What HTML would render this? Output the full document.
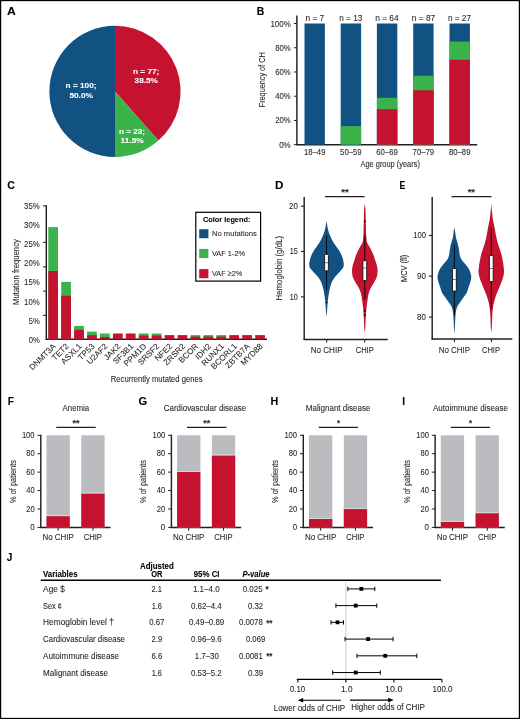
<!DOCTYPE html>
<html><head><meta charset="utf-8"><style>
html,body{margin:0;padding:0;background:#fff;}
body{width:520px;height:719px;overflow:hidden;}
svg{display:block;font-family:"Liberation Sans", sans-serif;will-change:transform;}
</style></head><body>
<svg width="520" height="719" viewBox="0 0 520 719">
<rect x="0" y="0" width="520" height="719" fill="#fff"/>
<text x="7.00" y="14.80" font-size="11.6" font-weight="bold" font-style="normal" fill="#000" stroke="#000" stroke-width="0.08" textLength="8.80" lengthAdjust="spacingAndGlyphs">A</text>
<text x="256.70" y="14.80" font-size="11.6" font-weight="bold" font-style="normal" fill="#000" stroke="#000" stroke-width="0.08" textLength="7.50" lengthAdjust="spacingAndGlyphs">B</text>
<text x="7.30" y="189.20" font-size="11.6" font-weight="bold" font-style="normal" fill="#000" stroke="#000" stroke-width="0.08" textLength="7.70" lengthAdjust="spacingAndGlyphs">C</text>
<text x="275.00" y="189.30" font-size="11.6" font-weight="bold" font-style="normal" fill="#000" stroke="#000" stroke-width="0.08" textLength="8.40" lengthAdjust="spacingAndGlyphs">D</text>
<text x="399.60" y="189.30" font-size="11.6" font-weight="bold" font-style="normal" fill="#000" stroke="#000" stroke-width="0.08" textLength="5.80" lengthAdjust="spacingAndGlyphs">E</text>
<text x="7.80" y="404.50" font-size="11.6" font-weight="bold" font-style="normal" fill="#000" stroke="#000" stroke-width="0.08" textLength="6.20" lengthAdjust="spacingAndGlyphs">F</text>
<text x="138.60" y="404.70" font-size="11.6" font-weight="bold" font-style="normal" fill="#000" stroke="#000" stroke-width="0.08" textLength="8.70" lengthAdjust="spacingAndGlyphs">G</text>
<text x="270.50" y="404.50" font-size="11.6" font-weight="bold" font-style="normal" fill="#000" stroke="#000" stroke-width="0.08" textLength="7.75" lengthAdjust="spacingAndGlyphs">H</text>
<text x="402.20" y="404.60" font-size="11.6" font-weight="bold" font-style="normal" fill="#000" stroke="#000" stroke-width="0.08" textLength="2.80" lengthAdjust="spacingAndGlyphs">I</text>
<text x="6.80" y="561.30" font-size="11.6" font-weight="bold" font-style="normal" fill="#000" stroke="#000" stroke-width="0.08" textLength="5.60" lengthAdjust="spacingAndGlyphs">J</text>
<path d="M115.0,91.4 L115.00,25.80 A65.6,65.6 0 0 0 115.00,157.00 Z" fill="#115283"/>
<path d="M115.0,91.4 L115.00,25.80 A65.6,65.6 0 0 1 158.38,140.61 Z" fill="#c4122f"/>
<path d="M115.0,91.4 L158.38,140.61 A65.6,65.6 0 0 1 115.00,157.00 Z" fill="#3bb34a"/>
<text x="65.60" y="88.00" font-size="8.0" font-weight="bold" font-style="normal" fill="#ffffff" stroke="#ffffff" stroke-width="0.08" textLength="30.90" lengthAdjust="spacingAndGlyphs">n = 100;</text>
<text x="69.40" y="97.60" font-size="8.0" font-weight="bold" font-style="normal" fill="#ffffff" stroke="#ffffff" stroke-width="0.08" textLength="23.50" lengthAdjust="spacingAndGlyphs">50.0%</text>
<text x="132.90" y="73.80" font-size="8.0" font-weight="bold" font-style="normal" fill="#ffffff" stroke="#ffffff" stroke-width="0.08" textLength="26.50" lengthAdjust="spacingAndGlyphs">n = 77;</text>
<text x="134.60" y="83.10" font-size="8.0" font-weight="bold" font-style="normal" fill="#ffffff" stroke="#ffffff" stroke-width="0.08" textLength="23.30" lengthAdjust="spacingAndGlyphs">38.5%</text>
<text x="118.90" y="133.75" font-size="8.0" font-weight="bold" font-style="normal" fill="#ffffff" stroke="#ffffff" stroke-width="0.08" textLength="26.20" lengthAdjust="spacingAndGlyphs">n = 23;</text>
<text x="120.60" y="143.10" font-size="8.0" font-weight="bold" font-style="normal" fill="#ffffff" stroke="#ffffff" stroke-width="0.08" textLength="23.20" lengthAdjust="spacingAndGlyphs">11.5%</text>
<line x1="296.90" y1="15.60" x2="296.90" y2="145.30" stroke="#231f20" stroke-width="1.45"/>
<line x1="296.30" y1="144.70" x2="477.20" y2="144.70" stroke="#231f20" stroke-width="1.45"/>
<line x1="293.90" y1="144.70" x2="296.90" y2="144.70" stroke="#231f20" stroke-width="1.0"/>
<text x="279.20" y="147.70" font-size="8.6" font-weight="normal" font-style="normal" fill="#231f20" stroke="#231f20" stroke-width="0.08" textLength="11.50" lengthAdjust="spacingAndGlyphs">0%</text>
<line x1="293.90" y1="120.46" x2="296.90" y2="120.46" stroke="#231f20" stroke-width="1.0"/>
<text x="275.20" y="123.46" font-size="8.6" font-weight="normal" font-style="normal" fill="#231f20" stroke="#231f20" stroke-width="0.08" textLength="15.50" lengthAdjust="spacingAndGlyphs">20%</text>
<line x1="293.90" y1="96.22" x2="296.90" y2="96.22" stroke="#231f20" stroke-width="1.0"/>
<text x="275.20" y="99.22" font-size="8.6" font-weight="normal" font-style="normal" fill="#231f20" stroke="#231f20" stroke-width="0.08" textLength="15.50" lengthAdjust="spacingAndGlyphs">40%</text>
<line x1="293.90" y1="71.98" x2="296.90" y2="71.98" stroke="#231f20" stroke-width="1.0"/>
<text x="275.20" y="74.98" font-size="8.6" font-weight="normal" font-style="normal" fill="#231f20" stroke="#231f20" stroke-width="0.08" textLength="15.50" lengthAdjust="spacingAndGlyphs">60%</text>
<line x1="293.90" y1="47.74" x2="296.90" y2="47.74" stroke="#231f20" stroke-width="1.0"/>
<text x="275.20" y="50.74" font-size="8.6" font-weight="normal" font-style="normal" fill="#231f20" stroke="#231f20" stroke-width="0.08" textLength="15.50" lengthAdjust="spacingAndGlyphs">80%</text>
<line x1="293.90" y1="23.50" x2="296.90" y2="23.50" stroke="#231f20" stroke-width="1.0"/>
<text x="270.40" y="26.50" font-size="8.6" font-weight="normal" font-style="normal" fill="#231f20" stroke="#231f20" stroke-width="0.08" textLength="20.30" lengthAdjust="spacingAndGlyphs">100%</text>
<rect x="304.50" y="23.50" width="20.40" height="121.20" fill="#115283"/>
<rect x="340.70" y="23.50" width="20.40" height="121.20" fill="#115283"/>
<rect x="340.70" y="126.16" width="20.40" height="18.54" fill="#3bb34a"/>
<rect x="376.90" y="23.50" width="20.40" height="121.20" fill="#115283"/>
<rect x="376.90" y="97.80" width="20.40" height="46.90" fill="#3bb34a"/>
<rect x="376.90" y="109.19" width="20.40" height="35.51" fill="#c4122f"/>
<rect x="413.20" y="23.50" width="20.40" height="121.20" fill="#115283"/>
<rect x="413.20" y="75.74" width="20.40" height="68.96" fill="#3bb34a"/>
<rect x="413.20" y="90.28" width="20.40" height="54.42" fill="#c4122f"/>
<rect x="449.50" y="23.50" width="20.40" height="121.20" fill="#115283"/>
<rect x="449.50" y="41.56" width="20.40" height="103.14" fill="#3bb34a"/>
<rect x="449.50" y="59.74" width="20.40" height="84.96" fill="#c4122f"/>
<text x="305.40" y="21.00" font-size="8.3" font-weight="normal" font-style="normal" fill="#231f20" stroke="#231f20" stroke-width="0.08" textLength="18.90" lengthAdjust="spacingAndGlyphs">n = 7</text>
<text x="339.20" y="21.00" font-size="8.3" font-weight="normal" font-style="normal" fill="#231f20" stroke="#231f20" stroke-width="0.08" textLength="23.10" lengthAdjust="spacingAndGlyphs">n = 13</text>
<text x="375.20" y="21.00" font-size="8.3" font-weight="normal" font-style="normal" fill="#231f20" stroke="#231f20" stroke-width="0.08" textLength="23.40" lengthAdjust="spacingAndGlyphs">n = 64</text>
<text x="411.80" y="21.00" font-size="8.3" font-weight="normal" font-style="normal" fill="#231f20" stroke="#231f20" stroke-width="0.08" textLength="23.40" lengthAdjust="spacingAndGlyphs">n = 87</text>
<text x="447.90" y="21.00" font-size="8.3" font-weight="normal" font-style="normal" fill="#231f20" stroke="#231f20" stroke-width="0.08" textLength="23.10" lengthAdjust="spacingAndGlyphs">n = 27</text>
<text x="303.90" y="154.70" font-size="8.6" font-weight="normal" font-style="normal" fill="#231f20" stroke="#231f20" stroke-width="0.08" textLength="21.60" lengthAdjust="spacingAndGlyphs">18–49</text>
<text x="340.10" y="154.70" font-size="8.6" font-weight="normal" font-style="normal" fill="#231f20" stroke="#231f20" stroke-width="0.08" textLength="21.60" lengthAdjust="spacingAndGlyphs">50–59</text>
<text x="376.30" y="154.70" font-size="8.6" font-weight="normal" font-style="normal" fill="#231f20" stroke="#231f20" stroke-width="0.08" textLength="21.60" lengthAdjust="spacingAndGlyphs">60–69</text>
<text x="412.60" y="154.70" font-size="8.6" font-weight="normal" font-style="normal" fill="#231f20" stroke="#231f20" stroke-width="0.08" textLength="21.60" lengthAdjust="spacingAndGlyphs">70–79</text>
<text x="448.90" y="154.70" font-size="8.6" font-weight="normal" font-style="normal" fill="#231f20" stroke="#231f20" stroke-width="0.08" textLength="21.60" lengthAdjust="spacingAndGlyphs">80–89</text>
<text x="360.50" y="167.30" font-size="9.5" font-weight="normal" font-style="normal" fill="#231f20" stroke="#231f20" stroke-width="0.08" textLength="59.40" lengthAdjust="spacingAndGlyphs">Age group (years)</text>
<text transform="translate(264.50,107.30) rotate(-90)" x="0" y="0" font-size="9.5" font-weight="normal" fill="#231f20" stroke="#231f20" stroke-width="0.08" textLength="55.00" lengthAdjust="spacingAndGlyphs">Frequency of CH</text>
<line x1="46.30" y1="205.30" x2="46.30" y2="339.80" stroke="#231f20" stroke-width="1.45"/>
<line x1="45.70" y1="339.20" x2="267.00" y2="339.20" stroke="#231f20" stroke-width="1.45"/>
<line x1="43.00" y1="205.90" x2="46.30" y2="205.90" stroke="#231f20" stroke-width="1.0"/>
<line x1="43.00" y1="242.30" x2="46.30" y2="242.30" stroke="#231f20" stroke-width="1.0"/>
<line x1="43.00" y1="266.90" x2="46.30" y2="266.90" stroke="#231f20" stroke-width="1.0"/>
<line x1="43.00" y1="291.10" x2="46.30" y2="291.10" stroke="#231f20" stroke-width="1.0"/>
<line x1="43.00" y1="315.40" x2="46.30" y2="315.40" stroke="#231f20" stroke-width="1.0"/>
<text x="28.70" y="342.70" font-size="8.6" font-weight="normal" font-style="normal" fill="#231f20" stroke="#231f20" stroke-width="0.08" textLength="11.00" lengthAdjust="spacingAndGlyphs">0%</text>
<text x="28.70" y="323.63" font-size="8.6" font-weight="normal" font-style="normal" fill="#231f20" stroke="#231f20" stroke-width="0.08" textLength="11.00" lengthAdjust="spacingAndGlyphs">5%</text>
<text x="24.10" y="304.56" font-size="8.6" font-weight="normal" font-style="normal" fill="#231f20" stroke="#231f20" stroke-width="0.08" textLength="15.60" lengthAdjust="spacingAndGlyphs">10%</text>
<text x="24.10" y="285.49" font-size="8.6" font-weight="normal" font-style="normal" fill="#231f20" stroke="#231f20" stroke-width="0.08" textLength="15.60" lengthAdjust="spacingAndGlyphs">15%</text>
<text x="24.10" y="266.42" font-size="8.6" font-weight="normal" font-style="normal" fill="#231f20" stroke="#231f20" stroke-width="0.08" textLength="15.60" lengthAdjust="spacingAndGlyphs">20%</text>
<text x="24.10" y="247.35" font-size="8.6" font-weight="normal" font-style="normal" fill="#231f20" stroke="#231f20" stroke-width="0.08" textLength="15.60" lengthAdjust="spacingAndGlyphs">25%</text>
<text x="24.10" y="228.28" font-size="8.6" font-weight="normal" font-style="normal" fill="#231f20" stroke="#231f20" stroke-width="0.08" textLength="15.60" lengthAdjust="spacingAndGlyphs">30%</text>
<text x="24.10" y="209.21" font-size="8.6" font-weight="normal" font-style="normal" fill="#231f20" stroke="#231f20" stroke-width="0.08" textLength="15.60" lengthAdjust="spacingAndGlyphs">35%</text>
<rect x="48.30" y="227.10" width="9.70" height="112.10" fill="#3bb34a"/>
<rect x="48.30" y="271.00" width="9.70" height="68.20" fill="#c4122f"/>
<text transform="translate(56.35,346.80) rotate(-45)" text-anchor="end" font-size="8.2" stroke="#231f20" stroke-width="0.08" fill="#231f20">DNMT3A</text>
<rect x="61.23" y="281.90" width="9.70" height="57.30" fill="#3bb34a"/>
<rect x="61.23" y="295.70" width="9.70" height="43.50" fill="#c4122f"/>
<text transform="translate(69.28,346.80) rotate(-45)" text-anchor="end" font-size="8.2" stroke="#231f20" stroke-width="0.08" fill="#231f20">TET2</text>
<rect x="74.16" y="325.90" width="9.70" height="13.30" fill="#3bb34a"/>
<rect x="74.16" y="329.80" width="9.70" height="9.40" fill="#c4122f"/>
<text transform="translate(82.21,346.80) rotate(-45)" text-anchor="end" font-size="8.2" stroke="#231f20" stroke-width="0.08" fill="#231f20">ASXL1</text>
<rect x="87.09" y="331.60" width="9.70" height="7.60" fill="#3bb34a"/>
<rect x="87.09" y="335.20" width="9.70" height="4.00" fill="#c4122f"/>
<text transform="translate(95.14,346.80) rotate(-45)" text-anchor="end" font-size="8.2" stroke="#231f20" stroke-width="0.08" fill="#231f20">TP53</text>
<rect x="100.02" y="333.50" width="9.70" height="5.70" fill="#3bb34a"/>
<rect x="100.02" y="337.00" width="9.70" height="2.20" fill="#c4122f"/>
<text transform="translate(108.07,346.80) rotate(-45)" text-anchor="end" font-size="8.2" stroke="#231f20" stroke-width="0.08" fill="#231f20">U2AF2</text>
<rect x="112.95" y="333.50" width="9.70" height="5.70" fill="#c4122f"/>
<text transform="translate(121.00,346.80) rotate(-45)" text-anchor="end" font-size="8.2" stroke="#231f20" stroke-width="0.08" fill="#231f20">JAK2</text>
<rect x="125.88" y="333.50" width="9.70" height="5.70" fill="#c4122f"/>
<text transform="translate(133.93,346.80) rotate(-45)" text-anchor="end" font-size="8.2" stroke="#231f20" stroke-width="0.08" fill="#231f20">SF3B1</text>
<rect x="138.81" y="333.50" width="9.70" height="5.70" fill="#3bb34a"/>
<rect x="138.81" y="335.50" width="9.70" height="3.70" fill="#c4122f"/>
<text transform="translate(146.86,346.80) rotate(-45)" text-anchor="end" font-size="8.2" stroke="#231f20" stroke-width="0.08" fill="#231f20">PPM1D</text>
<rect x="151.74" y="333.50" width="9.70" height="5.70" fill="#3bb34a"/>
<rect x="151.74" y="335.50" width="9.70" height="3.70" fill="#c4122f"/>
<text transform="translate(159.79,346.80) rotate(-45)" text-anchor="end" font-size="8.2" stroke="#231f20" stroke-width="0.08" fill="#231f20">SRSF2</text>
<rect x="164.67" y="335.10" width="9.70" height="4.10" fill="#c4122f"/>
<text transform="translate(172.72,346.80) rotate(-45)" text-anchor="end" font-size="8.2" stroke="#231f20" stroke-width="0.08" fill="#231f20">NFE2</text>
<rect x="177.60" y="335.10" width="9.70" height="4.10" fill="#c4122f"/>
<text transform="translate(185.65,346.80) rotate(-45)" text-anchor="end" font-size="8.2" stroke="#231f20" stroke-width="0.08" fill="#231f20">ZRSR2</text>
<rect x="190.53" y="335.10" width="9.70" height="4.10" fill="#3bb34a"/>
<rect x="190.53" y="336.60" width="9.70" height="2.60" fill="#c4122f"/>
<text transform="translate(198.58,346.80) rotate(-45)" text-anchor="end" font-size="8.2" stroke="#231f20" stroke-width="0.08" fill="#231f20">BCOR</text>
<rect x="203.46" y="335.10" width="9.70" height="4.10" fill="#3bb34a"/>
<rect x="203.46" y="336.60" width="9.70" height="2.60" fill="#c4122f"/>
<text transform="translate(211.51,346.80) rotate(-45)" text-anchor="end" font-size="8.2" stroke="#231f20" stroke-width="0.08" fill="#231f20">IDH2</text>
<rect x="216.39" y="335.10" width="9.70" height="4.10" fill="#3bb34a"/>
<rect x="216.39" y="336.60" width="9.70" height="2.60" fill="#c4122f"/>
<text transform="translate(224.44,346.80) rotate(-45)" text-anchor="end" font-size="8.2" stroke="#231f20" stroke-width="0.08" fill="#231f20">RUNX1</text>
<rect x="229.32" y="335.10" width="9.70" height="4.10" fill="#c4122f"/>
<text transform="translate(237.37,346.80) rotate(-45)" text-anchor="end" font-size="8.2" stroke="#231f20" stroke-width="0.08" fill="#231f20">BCORL1</text>
<rect x="242.25" y="335.10" width="9.70" height="4.10" fill="#c4122f"/>
<text transform="translate(250.30,346.80) rotate(-45)" text-anchor="end" font-size="8.2" stroke="#231f20" stroke-width="0.08" fill="#231f20">ZBTB7A</text>
<rect x="255.18" y="335.10" width="9.70" height="4.10" fill="#c4122f"/>
<text transform="translate(263.23,346.80) rotate(-45)" text-anchor="end" font-size="8.2" stroke="#231f20" stroke-width="0.08" fill="#231f20">MYD88</text>
<text x="110.80" y="382.30" font-size="9.0" font-weight="normal" font-style="normal" fill="#231f20" stroke="#231f20" stroke-width="0.08" textLength="91.70" lengthAdjust="spacingAndGlyphs">Recurrently mutated genes</text>
<text transform="translate(18.50,304.90) rotate(-90)" x="0" y="0" font-size="9.0" font-weight="normal" fill="#231f20" stroke="#231f20" stroke-width="0.08" textLength="65.80" lengthAdjust="spacingAndGlyphs">Mutation frequency</text>
<rect x="195.8" y="212.3" width="64.8" height="68.8" fill="#fff" stroke="#000" stroke-width="1.2"/>
<text x="203.00" y="221.90" font-size="7.9" font-weight="bold" font-style="normal" fill="#000" stroke="#000" stroke-width="0.08" textLength="47.40" lengthAdjust="spacingAndGlyphs">Color legend:</text>
<rect x="199.20" y="229.20" width="9.20" height="9.00" fill="#115283"/>
<rect x="199.20" y="248.90" width="9.20" height="9.20" fill="#3bb34a"/>
<rect x="199.20" y="269.10" width="9.20" height="9.10" fill="#c4122f"/>
<text x="212.00" y="236.40" font-size="8.1" font-weight="normal" font-style="normal" fill="#231f20" stroke="#231f20" stroke-width="0.08" textLength="44.90" lengthAdjust="spacingAndGlyphs">No mutations</text>
<text x="212.00" y="256.10" font-size="8.1" font-weight="normal" font-style="normal" fill="#231f20" stroke="#231f20" stroke-width="0.08" textLength="33.10" lengthAdjust="spacingAndGlyphs">VAF 1-2%</text>
<text x="212.00" y="276.20" font-size="8.1" font-weight="normal" font-style="normal" fill="#231f20" stroke="#231f20" stroke-width="0.08" textLength="30.20" lengthAdjust="spacingAndGlyphs">VAF &#8805;2%</text>
<line x1="304.20" y1="196.90" x2="304.20" y2="340.10" stroke="#231f20" stroke-width="1.45"/>
<line x1="303.60" y1="339.50" x2="387.70" y2="339.50" stroke="#231f20" stroke-width="1.45"/>
<line x1="300.90" y1="206.20" x2="304.20" y2="206.20" stroke="#231f20" stroke-width="1.1"/>
<text x="289.00" y="209.10" font-size="8.6" font-weight="normal" font-style="normal" fill="#231f20" stroke="#231f20" stroke-width="0.08" textLength="8.80" lengthAdjust="spacingAndGlyphs">20</text>
<line x1="300.90" y1="251.40" x2="304.20" y2="251.40" stroke="#231f20" stroke-width="1.1"/>
<text x="289.80" y="254.30" font-size="8.6" font-weight="normal" font-style="normal" fill="#231f20" stroke="#231f20" stroke-width="0.08" textLength="8.00" lengthAdjust="spacingAndGlyphs">15</text>
<line x1="300.90" y1="296.90" x2="304.20" y2="296.90" stroke="#231f20" stroke-width="1.1"/>
<text x="289.80" y="299.80" font-size="8.6" font-weight="normal" font-style="normal" fill="#231f20" stroke="#231f20" stroke-width="0.08" textLength="8.00" lengthAdjust="spacingAndGlyphs">10</text>
<line x1="326.70" y1="339.50" x2="326.70" y2="342.60" stroke="#231f20" stroke-width="1.0"/>
<line x1="364.70" y1="339.50" x2="364.70" y2="342.60" stroke="#231f20" stroke-width="1.0"/>
<text x="310.75" y="352.50" font-size="8.6" font-weight="normal" font-style="normal" fill="#231f20" stroke="#231f20" stroke-width="0.08" textLength="31.75" lengthAdjust="spacingAndGlyphs">No CHIP</text>
<text x="355.75" y="352.50" font-size="8.6" font-weight="normal" font-style="normal" fill="#231f20" stroke="#231f20" stroke-width="0.08" textLength="18.00" lengthAdjust="spacingAndGlyphs">CHIP</text>
<line x1="324.90" y1="196.70" x2="364.60" y2="196.70" stroke="#231f20" stroke-width="1.3"/>
<text x="341.30" y="195.30" font-size="8.6" font-weight="bold" font-style="normal" fill="#231f20" stroke="#231f20" stroke-width="0.08" textLength="7.50" lengthAdjust="spacingAndGlyphs">**</text>
<text transform="translate(282.40,300.50) rotate(-90)" x="0" y="0" font-size="8.8" font-weight="normal" fill="#231f20" stroke="#231f20" stroke-width="0.08" textLength="64.50" lengthAdjust="spacingAndGlyphs">Hemoglobin (g/dL)</text>
<path d="M326.50,221.10 C326.60,221.67 326.90,223.35 327.10,224.50 C327.30,225.65 327.42,226.70 327.70,228.00 C327.98,229.30 328.33,230.87 328.80,232.30 C329.27,233.73 329.87,235.15 330.50,236.60 C331.13,238.05 331.78,239.55 332.60,241.00 C333.42,242.45 334.43,243.87 335.40,245.30 C336.37,246.73 337.47,248.17 338.40,249.60 C339.33,251.03 340.28,252.45 341.00,253.90 C341.72,255.35 342.27,256.85 342.70,258.30 C343.13,259.75 343.42,261.57 343.60,262.60 C343.78,263.63 343.83,263.78 343.80,264.50 C343.77,265.22 343.65,266.20 343.40,266.90 C343.15,267.60 343.10,267.68 342.30,268.70 C341.50,269.72 339.87,271.57 338.60,273.00 C337.33,274.43 335.78,275.87 334.70,277.30 C333.62,278.73 332.80,280.15 332.10,281.60 C331.40,283.05 330.95,284.55 330.50,286.00 C330.05,287.45 329.70,288.87 329.40,290.30 C329.10,291.73 328.93,293.17 328.70,294.60 C328.47,296.03 328.18,297.45 328.00,298.90 C327.82,300.35 327.72,301.85 327.60,303.30 C327.48,304.75 327.40,306.17 327.30,307.60 C327.20,309.03 327.13,310.47 327.00,311.90 C326.87,313.33 326.58,315.48 326.50,316.20 C326.42,315.48 326.13,313.33 326.00,311.90 C325.87,310.47 325.80,309.03 325.70,307.60 C325.60,306.17 325.52,304.75 325.40,303.30 C325.28,301.85 325.18,300.35 325.00,298.90 C324.82,297.45 324.53,296.03 324.30,294.60 C324.07,293.17 323.90,291.73 323.60,290.30 C323.30,288.87 322.95,287.45 322.50,286.00 C322.05,284.55 321.60,283.05 320.90,281.60 C320.20,280.15 319.38,278.73 318.30,277.30 C317.22,275.87 315.67,274.43 314.40,273.00 C313.13,271.57 311.50,269.72 310.70,268.70 C309.90,267.68 309.85,267.60 309.60,266.90 C309.35,266.20 309.23,265.22 309.20,264.50 C309.17,263.78 309.22,263.63 309.40,262.60 C309.58,261.57 309.87,259.75 310.30,258.30 C310.73,256.85 311.28,255.35 312.00,253.90 C312.72,252.45 313.67,251.03 314.60,249.60 C315.53,248.17 316.63,246.73 317.60,245.30 C318.57,243.87 319.58,242.45 320.40,241.00 C321.22,239.55 321.87,238.05 322.50,236.60 C323.13,235.15 323.73,233.73 324.20,232.30 C324.67,230.87 325.02,229.30 325.30,228.00 C325.58,226.70 325.70,225.65 325.90,224.50 C326.10,223.35 326.40,221.67 326.50,221.10 Z" fill="#115283"/>
<path d="M364.80,203.80 C364.92,204.78 365.34,207.17 365.50,209.70 C365.66,212.23 365.67,215.75 365.75,219.00 C365.83,222.25 365.93,226.53 366.00,229.20 C366.07,231.87 366.12,233.37 366.20,235.00 C366.28,236.63 366.33,237.70 366.50,239.00 C366.67,240.30 366.52,241.18 367.20,242.80 C367.88,244.42 369.58,246.75 370.60,248.70 C371.62,250.65 372.52,252.55 373.30,254.50 C374.08,256.45 374.70,258.55 375.30,260.40 C375.90,262.25 376.52,263.82 376.90,265.60 C377.28,267.38 377.60,269.25 377.60,271.10 C377.60,272.95 377.47,274.85 376.90,276.70 C376.33,278.55 375.20,280.35 374.20,282.20 C373.20,284.05 371.82,285.95 370.90,287.80 C369.98,289.65 369.23,291.45 368.70,293.30 C368.17,295.15 368.00,297.05 367.70,298.90 C367.40,300.75 367.13,302.55 366.90,304.40 C366.67,306.25 366.47,308.13 366.30,310.00 C366.13,311.87 366.02,313.75 365.90,315.60 C365.78,317.45 365.68,319.25 365.60,321.10 C365.52,322.95 365.53,324.67 365.40,326.70 C365.27,328.73 364.90,332.20 364.80,333.30 C364.70,332.20 364.33,328.73 364.20,326.70 C364.07,324.67 364.08,322.95 364.00,321.10 C363.92,319.25 363.82,317.45 363.70,315.60 C363.58,313.75 363.47,311.87 363.30,310.00 C363.13,308.13 362.93,306.25 362.70,304.40 C362.47,302.55 362.20,300.75 361.90,298.90 C361.60,297.05 361.43,295.15 360.90,293.30 C360.37,291.45 359.62,289.65 358.70,287.80 C357.78,285.95 356.40,284.05 355.40,282.20 C354.40,280.35 353.27,278.55 352.70,276.70 C352.13,274.85 352.00,272.95 352.00,271.10 C352.00,269.25 352.32,267.38 352.70,265.60 C353.08,263.82 353.70,262.25 354.30,260.40 C354.90,258.55 355.52,256.45 356.30,254.50 C357.08,252.55 357.98,250.65 359.00,248.70 C360.02,246.75 361.72,244.42 362.40,242.80 C363.08,241.18 362.93,240.30 363.10,239.00 C363.27,237.70 363.32,236.63 363.40,235.00 C363.48,233.37 363.53,231.87 363.60,229.20 C363.68,226.53 363.77,222.25 363.85,219.00 C363.93,215.75 363.94,212.23 364.10,209.70 C364.26,207.17 364.68,204.78 364.80,203.80 Z" fill="#c4122f"/>
<line x1="326.50" y1="235.80" x2="326.50" y2="289.90" stroke="#000" stroke-width="0.9"/>
<rect x="324.60" y="254.40" width="3.80" height="16.40" rx="0.8" fill="#fff" stroke="#000" stroke-width="0.8"/>
<line x1="325.00" y1="262.70" x2="328.00" y2="262.70" stroke="#777" stroke-width="1.0"/>
<circle cx="326.50" cy="302.60" r="0.9" fill="#000"/>
<line x1="364.80" y1="235.50" x2="364.80" y2="299.40" stroke="#000" stroke-width="0.9"/>
<rect x="362.90" y="260.70" width="3.80" height="19.90" rx="0.8" fill="#fff" stroke="#000" stroke-width="0.8"/>
<line x1="363.30" y1="268.00" x2="366.30" y2="268.00" stroke="#777" stroke-width="1.0"/>
<circle cx="364.80" cy="221.40" r="0.9" fill="#000"/>
<circle cx="364.80" cy="310.90" r="0.9" fill="#000"/>
<circle cx="364.80" cy="315.20" r="0.9" fill="#000"/>
<line x1="432.20" y1="196.90" x2="432.20" y2="339.60" stroke="#231f20" stroke-width="1.45"/>
<line x1="431.60" y1="339.00" x2="512.30" y2="339.00" stroke="#231f20" stroke-width="1.45"/>
<line x1="428.90" y1="235.50" x2="432.20" y2="235.50" stroke="#231f20" stroke-width="1.1"/>
<text x="413.20" y="238.45" font-size="8.6" font-weight="normal" font-style="normal" fill="#231f20" stroke="#231f20" stroke-width="0.08" textLength="12.70" lengthAdjust="spacingAndGlyphs">100</text>
<line x1="428.90" y1="276.10" x2="432.20" y2="276.10" stroke="#231f20" stroke-width="1.1"/>
<text x="417.00" y="279.05" font-size="8.6" font-weight="normal" font-style="normal" fill="#231f20" stroke="#231f20" stroke-width="0.08" textLength="8.90" lengthAdjust="spacingAndGlyphs">90</text>
<line x1="428.90" y1="317.10" x2="432.20" y2="317.10" stroke="#231f20" stroke-width="1.1"/>
<text x="417.00" y="320.05" font-size="8.6" font-weight="normal" font-style="normal" fill="#231f20" stroke="#231f20" stroke-width="0.08" textLength="8.90" lengthAdjust="spacingAndGlyphs">80</text>
<line x1="454.40" y1="339.00" x2="454.40" y2="342.10" stroke="#231f20" stroke-width="1.0"/>
<line x1="491.40" y1="339.00" x2="491.40" y2="342.10" stroke="#231f20" stroke-width="1.0"/>
<text x="438.75" y="352.50" font-size="8.6" font-weight="normal" font-style="normal" fill="#231f20" stroke="#231f20" stroke-width="0.08" textLength="31.25" lengthAdjust="spacingAndGlyphs">No CHIP</text>
<text x="482.00" y="352.50" font-size="8.6" font-weight="normal" font-style="normal" fill="#231f20" stroke="#231f20" stroke-width="0.08" textLength="18.00" lengthAdjust="spacingAndGlyphs">CHIP</text>
<line x1="451.50" y1="196.70" x2="491.50" y2="196.70" stroke="#231f20" stroke-width="1.3"/>
<text x="467.70" y="195.30" font-size="8.6" font-weight="bold" font-style="normal" fill="#231f20" stroke="#231f20" stroke-width="0.08" textLength="7.30" lengthAdjust="spacingAndGlyphs">**</text>
<text transform="translate(407.00,282.00) rotate(-90)" x="0" y="0" font-size="8.8" font-weight="normal" fill="#231f20" stroke="#231f20" stroke-width="0.08" textLength="27.10" lengthAdjust="spacingAndGlyphs">MCV (fl)</text>
<path d="M454.40,227.40 C454.48,227.83 454.75,229.07 454.90,230.00 C455.05,230.93 455.13,231.78 455.30,233.00 C455.47,234.22 455.60,235.87 455.90,237.30 C456.20,238.73 456.70,240.15 457.10,241.60 C457.50,243.05 457.97,244.55 458.30,246.00 C458.63,247.45 458.88,248.87 459.10,250.30 C459.32,251.73 459.27,253.17 459.60,254.60 C459.93,256.03 460.27,257.45 461.10,258.90 C461.93,260.35 463.45,261.85 464.60,263.30 C465.75,264.75 467.07,266.17 468.00,267.60 C468.93,269.03 469.67,270.47 470.20,271.90 C470.73,273.33 471.07,274.93 471.20,276.20 C471.33,277.47 471.25,278.20 471.00,279.50 C470.75,280.80 470.17,282.48 469.70,284.00 C469.23,285.52 468.72,287.08 468.20,288.60 C467.68,290.12 467.40,291.60 466.60,293.10 C465.80,294.60 464.45,296.10 463.40,297.60 C462.35,299.10 461.32,300.60 460.30,302.10 C459.28,303.60 458.02,305.10 457.30,306.60 C456.58,308.10 456.30,309.58 456.00,311.10 C455.70,312.62 455.63,314.18 455.50,315.70 C455.37,317.22 455.28,318.70 455.20,320.20 C455.12,321.70 455.07,323.23 455.00,324.70 C454.93,326.17 454.90,327.42 454.80,329.00 C454.70,330.58 454.47,333.33 454.40,334.20 C454.33,333.33 454.10,330.58 454.00,329.00 C453.90,327.42 453.87,326.17 453.80,324.70 C453.73,323.23 453.68,321.70 453.60,320.20 C453.52,318.70 453.43,317.22 453.30,315.70 C453.17,314.18 453.10,312.62 452.80,311.10 C452.50,309.58 452.22,308.10 451.50,306.60 C450.78,305.10 449.52,303.60 448.50,302.10 C447.48,300.60 446.45,299.10 445.40,297.60 C444.35,296.10 443.00,294.60 442.20,293.10 C441.40,291.60 441.12,290.12 440.60,288.60 C440.08,287.08 439.57,285.52 439.10,284.00 C438.63,282.48 438.05,280.80 437.80,279.50 C437.55,278.20 437.47,277.47 437.60,276.20 C437.73,274.93 438.07,273.33 438.60,271.90 C439.13,270.47 439.87,269.03 440.80,267.60 C441.73,266.17 443.05,264.75 444.20,263.30 C445.35,261.85 446.87,260.35 447.70,258.90 C448.53,257.45 448.87,256.03 449.20,254.60 C449.53,253.17 449.48,251.73 449.70,250.30 C449.92,248.87 450.17,247.45 450.50,246.00 C450.83,244.55 451.30,243.05 451.70,241.60 C452.10,240.15 452.60,238.73 452.90,237.30 C453.20,235.87 453.33,234.22 453.50,233.00 C453.67,231.78 453.75,230.93 453.90,230.00 C454.05,229.07 454.32,227.83 454.40,227.40 Z" fill="#115283"/>
<path d="M491.30,203.40 C491.38,204.45 491.63,207.83 491.80,209.70 C491.97,211.57 492.12,212.97 492.30,214.60 C492.48,216.23 492.63,217.88 492.90,219.50 C493.17,221.12 493.57,222.68 493.90,224.30 C494.23,225.92 494.60,227.57 494.90,229.20 C495.20,230.83 495.40,232.48 495.70,234.10 C496.00,235.72 496.32,237.28 496.70,238.90 C497.08,240.52 497.52,242.17 498.00,243.80 C498.48,245.43 499.07,247.07 499.60,248.70 C500.13,250.33 500.75,251.98 501.20,253.60 C501.65,255.22 501.97,256.78 502.30,258.40 C502.63,260.02 502.95,261.67 503.20,263.30 C503.45,264.93 503.65,266.92 503.80,268.20 C503.95,269.48 504.13,269.80 504.10,271.00 C504.07,272.20 503.95,273.78 503.60,275.40 C503.25,277.02 502.62,278.95 502.00,280.70 C501.38,282.45 500.60,284.17 499.90,285.90 C499.20,287.63 498.48,289.37 497.80,291.10 C497.12,292.83 496.40,294.57 495.80,296.30 C495.20,298.03 494.65,299.77 494.20,301.50 C493.75,303.23 493.38,304.95 493.10,306.70 C492.82,308.45 492.65,310.25 492.50,312.00 C492.35,313.75 492.28,315.47 492.20,317.20 C492.12,318.93 492.07,320.67 492.00,322.40 C491.93,324.13 491.92,325.87 491.80,327.60 C491.68,329.33 491.38,331.93 491.30,332.80 C491.22,331.93 490.92,329.33 490.80,327.60 C490.68,325.87 490.67,324.13 490.60,322.40 C490.53,320.67 490.48,318.93 490.40,317.20 C490.32,315.47 490.25,313.75 490.10,312.00 C489.95,310.25 489.78,308.45 489.50,306.70 C489.22,304.95 488.85,303.23 488.40,301.50 C487.95,299.77 487.40,298.03 486.80,296.30 C486.20,294.57 485.48,292.83 484.80,291.10 C484.12,289.37 483.40,287.63 482.70,285.90 C482.00,284.17 481.22,282.45 480.60,280.70 C479.98,278.95 479.35,277.02 479.00,275.40 C478.65,273.78 478.53,272.20 478.50,271.00 C478.47,269.80 478.65,269.48 478.80,268.20 C478.95,266.92 479.15,264.93 479.40,263.30 C479.65,261.67 479.97,260.02 480.30,258.40 C480.63,256.78 480.95,255.22 481.40,253.60 C481.85,251.98 482.47,250.33 483.00,248.70 C483.53,247.07 484.12,245.43 484.60,243.80 C485.08,242.17 485.52,240.52 485.90,238.90 C486.28,237.28 486.60,235.72 486.90,234.10 C487.20,232.48 487.40,230.83 487.70,229.20 C488.00,227.57 488.37,225.92 488.70,224.30 C489.03,222.68 489.43,221.12 489.70,219.50 C489.97,217.88 490.12,216.23 490.30,214.60 C490.48,212.97 490.63,211.57 490.80,209.70 C490.97,207.83 491.22,204.45 491.30,203.40 Z" fill="#c4122f"/>
<line x1="454.40" y1="245.10" x2="454.40" y2="315.50" stroke="#000" stroke-width="0.9"/>
<rect x="452.50" y="268.50" width="3.80" height="22.60" rx="0.8" fill="#fff" stroke="#000" stroke-width="0.8"/>
<line x1="452.90" y1="279.50" x2="455.90" y2="279.50" stroke="#777" stroke-width="1.0"/>
<line x1="491.30" y1="227.30" x2="491.30" y2="308.30" stroke="#000" stroke-width="0.9"/>
<rect x="489.40" y="255.50" width="3.80" height="26.00" rx="0.8" fill="#fff" stroke="#000" stroke-width="0.8"/>
<line x1="489.80" y1="268.50" x2="492.80" y2="268.50" stroke="#777" stroke-width="1.0"/>
<line x1="40.80" y1="434.70" x2="40.80" y2="528.10" stroke="#231f20" stroke-width="1.45"/>
<line x1="40.10" y1="527.40" x2="110.50" y2="527.40" stroke="#231f20" stroke-width="1.45"/>
<line x1="37.50" y1="527.40" x2="40.80" y2="527.40" stroke="#231f20" stroke-width="1.0"/>
<text x="30.20" y="530.10" font-size="8.6" font-weight="normal" font-style="normal" fill="#231f20" stroke="#231f20" stroke-width="0.08" textLength="4.40" lengthAdjust="spacingAndGlyphs">0</text>
<line x1="37.50" y1="508.98" x2="40.80" y2="508.98" stroke="#231f20" stroke-width="1.0"/>
<text x="26.20" y="511.68" font-size="8.6" font-weight="normal" font-style="normal" fill="#231f20" stroke="#231f20" stroke-width="0.08" textLength="8.40" lengthAdjust="spacingAndGlyphs">20</text>
<line x1="37.50" y1="490.56" x2="40.80" y2="490.56" stroke="#231f20" stroke-width="1.0"/>
<text x="26.20" y="493.26" font-size="8.6" font-weight="normal" font-style="normal" fill="#231f20" stroke="#231f20" stroke-width="0.08" textLength="8.40" lengthAdjust="spacingAndGlyphs">40</text>
<line x1="37.50" y1="472.14" x2="40.80" y2="472.14" stroke="#231f20" stroke-width="1.0"/>
<text x="26.20" y="474.84" font-size="8.6" font-weight="normal" font-style="normal" fill="#231f20" stroke="#231f20" stroke-width="0.08" textLength="8.40" lengthAdjust="spacingAndGlyphs">60</text>
<line x1="37.50" y1="453.72" x2="40.80" y2="453.72" stroke="#231f20" stroke-width="1.0"/>
<text x="26.20" y="456.42" font-size="8.6" font-weight="normal" font-style="normal" fill="#231f20" stroke="#231f20" stroke-width="0.08" textLength="8.40" lengthAdjust="spacingAndGlyphs">80</text>
<line x1="37.50" y1="435.30" x2="40.80" y2="435.30" stroke="#231f20" stroke-width="1.0"/>
<text x="21.90" y="438.00" font-size="8.6" font-weight="normal" font-style="normal" fill="#231f20" stroke="#231f20" stroke-width="0.08" textLength="12.70" lengthAdjust="spacingAndGlyphs">100</text>
<rect x="46.50" y="435.30" width="23.30" height="92.10" fill="#bcbcc0"/>
<rect x="81.30" y="435.30" width="23.30" height="92.10" fill="#bcbcc0"/>
<rect x="46.50" y="516.16" width="23.30" height="11.24" fill="#c4122f"/>
<rect x="81.30" y="493.51" width="23.30" height="33.89" fill="#c4122f"/>
<rect x="46.50" y="515.16" width="23.30" height="0.90" fill="#cfe0e0"/>
<rect x="81.30" y="492.51" width="23.30" height="0.90" fill="#cfe0e0"/>
<line x1="58.15" y1="527.40" x2="58.15" y2="530.70" stroke="#231f20" stroke-width="1.0"/>
<line x1="92.95" y1="527.40" x2="92.95" y2="530.70" stroke="#231f20" stroke-width="1.0"/>
<text x="42.40" y="539.90" font-size="8.6" font-weight="normal" font-style="normal" fill="#231f20" stroke="#231f20" stroke-width="0.08" textLength="31.40" lengthAdjust="spacingAndGlyphs">No CHIP</text>
<text x="83.70" y="539.90" font-size="8.6" font-weight="normal" font-style="normal" fill="#231f20" stroke="#231f20" stroke-width="0.08" textLength="18.30" lengthAdjust="spacingAndGlyphs">CHIP</text>
<text x="62.50" y="411.20" font-size="8.4" font-weight="normal" font-style="normal" fill="#231f20" stroke="#231f20" stroke-width="0.08" textLength="26.75" lengthAdjust="spacingAndGlyphs">Anemia</text>
<line x1="56.25" y1="427.45" x2="95.75" y2="427.45" stroke="#231f20" stroke-width="1.25"/>
<text x="72.50" y="425.80" font-size="8.6" font-weight="bold" font-style="normal" fill="#231f20" stroke="#231f20" stroke-width="0.08" textLength="7.00" lengthAdjust="spacingAndGlyphs">**</text>
<text transform="translate(15.50,503.00) rotate(-90)" x="0" y="0" font-size="9.3" font-weight="normal" fill="#231f20" stroke="#231f20" stroke-width="0.08" textLength="43.00" lengthAdjust="spacingAndGlyphs">% of patients</text>
<line x1="171.40" y1="434.70" x2="171.40" y2="528.10" stroke="#231f20" stroke-width="1.45"/>
<line x1="170.70" y1="527.40" x2="241.10" y2="527.40" stroke="#231f20" stroke-width="1.45"/>
<line x1="168.10" y1="527.40" x2="171.40" y2="527.40" stroke="#231f20" stroke-width="1.0"/>
<text x="160.80" y="530.10" font-size="8.6" font-weight="normal" font-style="normal" fill="#231f20" stroke="#231f20" stroke-width="0.08" textLength="4.40" lengthAdjust="spacingAndGlyphs">0</text>
<line x1="168.10" y1="508.98" x2="171.40" y2="508.98" stroke="#231f20" stroke-width="1.0"/>
<text x="156.80" y="511.68" font-size="8.6" font-weight="normal" font-style="normal" fill="#231f20" stroke="#231f20" stroke-width="0.08" textLength="8.40" lengthAdjust="spacingAndGlyphs">20</text>
<line x1="168.10" y1="490.56" x2="171.40" y2="490.56" stroke="#231f20" stroke-width="1.0"/>
<text x="156.80" y="493.26" font-size="8.6" font-weight="normal" font-style="normal" fill="#231f20" stroke="#231f20" stroke-width="0.08" textLength="8.40" lengthAdjust="spacingAndGlyphs">40</text>
<line x1="168.10" y1="472.14" x2="171.40" y2="472.14" stroke="#231f20" stroke-width="1.0"/>
<text x="156.80" y="474.84" font-size="8.6" font-weight="normal" font-style="normal" fill="#231f20" stroke="#231f20" stroke-width="0.08" textLength="8.40" lengthAdjust="spacingAndGlyphs">60</text>
<line x1="168.10" y1="453.72" x2="171.40" y2="453.72" stroke="#231f20" stroke-width="1.0"/>
<text x="156.80" y="456.42" font-size="8.6" font-weight="normal" font-style="normal" fill="#231f20" stroke="#231f20" stroke-width="0.08" textLength="8.40" lengthAdjust="spacingAndGlyphs">80</text>
<line x1="168.10" y1="435.30" x2="171.40" y2="435.30" stroke="#231f20" stroke-width="1.0"/>
<text x="152.50" y="438.00" font-size="8.6" font-weight="normal" font-style="normal" fill="#231f20" stroke="#231f20" stroke-width="0.08" textLength="12.70" lengthAdjust="spacingAndGlyphs">100</text>
<rect x="177.10" y="435.30" width="23.30" height="92.10" fill="#bcbcc0"/>
<rect x="211.90" y="435.30" width="23.30" height="92.10" fill="#bcbcc0"/>
<rect x="177.10" y="471.96" width="23.30" height="55.44" fill="#c4122f"/>
<rect x="211.90" y="455.47" width="23.30" height="71.93" fill="#c4122f"/>
<rect x="177.10" y="470.96" width="23.30" height="0.90" fill="#cfe0e0"/>
<rect x="211.90" y="454.47" width="23.30" height="0.90" fill="#cfe0e0"/>
<line x1="188.75" y1="527.40" x2="188.75" y2="530.70" stroke="#231f20" stroke-width="1.0"/>
<line x1="223.55" y1="527.40" x2="223.55" y2="530.70" stroke="#231f20" stroke-width="1.0"/>
<text x="173.00" y="539.90" font-size="8.6" font-weight="normal" font-style="normal" fill="#231f20" stroke="#231f20" stroke-width="0.08" textLength="31.40" lengthAdjust="spacingAndGlyphs">No CHIP</text>
<text x="214.30" y="539.90" font-size="8.6" font-weight="normal" font-style="normal" fill="#231f20" stroke="#231f20" stroke-width="0.08" textLength="18.30" lengthAdjust="spacingAndGlyphs">CHIP</text>
<text x="163.75" y="411.20" font-size="8.4" font-weight="normal" font-style="normal" fill="#231f20" stroke="#231f20" stroke-width="0.08" textLength="82.50" lengthAdjust="spacingAndGlyphs">Cardiovascular disease</text>
<line x1="187.00" y1="427.45" x2="226.50" y2="427.45" stroke="#231f20" stroke-width="1.25"/>
<text x="203.25" y="425.80" font-size="8.6" font-weight="bold" font-style="normal" fill="#231f20" stroke="#231f20" stroke-width="0.08" textLength="7.00" lengthAdjust="spacingAndGlyphs">**</text>
<text transform="translate(146.10,503.00) rotate(-90)" x="0" y="0" font-size="9.3" font-weight="normal" fill="#231f20" stroke="#231f20" stroke-width="0.08" textLength="43.00" lengthAdjust="spacingAndGlyphs">% of patients</text>
<line x1="303.30" y1="434.70" x2="303.30" y2="528.10" stroke="#231f20" stroke-width="1.45"/>
<line x1="302.60" y1="527.40" x2="373.00" y2="527.40" stroke="#231f20" stroke-width="1.45"/>
<line x1="300.00" y1="527.40" x2="303.30" y2="527.40" stroke="#231f20" stroke-width="1.0"/>
<text x="292.70" y="530.10" font-size="8.6" font-weight="normal" font-style="normal" fill="#231f20" stroke="#231f20" stroke-width="0.08" textLength="4.40" lengthAdjust="spacingAndGlyphs">0</text>
<line x1="300.00" y1="508.98" x2="303.30" y2="508.98" stroke="#231f20" stroke-width="1.0"/>
<text x="288.70" y="511.68" font-size="8.6" font-weight="normal" font-style="normal" fill="#231f20" stroke="#231f20" stroke-width="0.08" textLength="8.40" lengthAdjust="spacingAndGlyphs">20</text>
<line x1="300.00" y1="490.56" x2="303.30" y2="490.56" stroke="#231f20" stroke-width="1.0"/>
<text x="288.70" y="493.26" font-size="8.6" font-weight="normal" font-style="normal" fill="#231f20" stroke="#231f20" stroke-width="0.08" textLength="8.40" lengthAdjust="spacingAndGlyphs">40</text>
<line x1="300.00" y1="472.14" x2="303.30" y2="472.14" stroke="#231f20" stroke-width="1.0"/>
<text x="288.70" y="474.84" font-size="8.6" font-weight="normal" font-style="normal" fill="#231f20" stroke="#231f20" stroke-width="0.08" textLength="8.40" lengthAdjust="spacingAndGlyphs">60</text>
<line x1="300.00" y1="453.72" x2="303.30" y2="453.72" stroke="#231f20" stroke-width="1.0"/>
<text x="288.70" y="456.42" font-size="8.6" font-weight="normal" font-style="normal" fill="#231f20" stroke="#231f20" stroke-width="0.08" textLength="8.40" lengthAdjust="spacingAndGlyphs">80</text>
<line x1="300.00" y1="435.30" x2="303.30" y2="435.30" stroke="#231f20" stroke-width="1.0"/>
<text x="284.40" y="438.00" font-size="8.6" font-weight="normal" font-style="normal" fill="#231f20" stroke="#231f20" stroke-width="0.08" textLength="12.70" lengthAdjust="spacingAndGlyphs">100</text>
<rect x="309.00" y="435.30" width="23.30" height="92.10" fill="#bcbcc0"/>
<rect x="343.80" y="435.30" width="23.30" height="92.10" fill="#bcbcc0"/>
<rect x="309.00" y="519.02" width="23.30" height="8.38" fill="#c4122f"/>
<rect x="343.80" y="509.07" width="23.30" height="18.33" fill="#c4122f"/>
<rect x="309.00" y="518.02" width="23.30" height="0.90" fill="#cfe0e0"/>
<rect x="343.80" y="508.07" width="23.30" height="0.90" fill="#cfe0e0"/>
<line x1="320.65" y1="527.40" x2="320.65" y2="530.70" stroke="#231f20" stroke-width="1.0"/>
<line x1="355.45" y1="527.40" x2="355.45" y2="530.70" stroke="#231f20" stroke-width="1.0"/>
<text x="304.90" y="539.90" font-size="8.6" font-weight="normal" font-style="normal" fill="#231f20" stroke="#231f20" stroke-width="0.08" textLength="31.40" lengthAdjust="spacingAndGlyphs">No CHIP</text>
<text x="346.20" y="539.90" font-size="8.6" font-weight="normal" font-style="normal" fill="#231f20" stroke="#231f20" stroke-width="0.08" textLength="18.30" lengthAdjust="spacingAndGlyphs">CHIP</text>
<text x="305.75" y="411.20" font-size="8.4" font-weight="normal" font-style="normal" fill="#231f20" stroke="#231f20" stroke-width="0.08" textLength="64.75" lengthAdjust="spacingAndGlyphs">Malignant disease</text>
<line x1="318.75" y1="427.45" x2="358.00" y2="427.45" stroke="#231f20" stroke-width="1.25"/>
<text x="336.88" y="425.80" font-size="8.6" font-weight="bold" font-style="normal" fill="#231f20" stroke="#231f20" stroke-width="0.08" textLength="3.00" lengthAdjust="spacingAndGlyphs">*</text>
<text transform="translate(278.00,503.00) rotate(-90)" x="0" y="0" font-size="9.3" font-weight="normal" fill="#231f20" stroke="#231f20" stroke-width="0.08" textLength="43.00" lengthAdjust="spacingAndGlyphs">% of patients</text>
<line x1="435.10" y1="434.70" x2="435.10" y2="528.10" stroke="#231f20" stroke-width="1.45"/>
<line x1="434.40" y1="527.40" x2="504.80" y2="527.40" stroke="#231f20" stroke-width="1.45"/>
<line x1="431.80" y1="527.40" x2="435.10" y2="527.40" stroke="#231f20" stroke-width="1.0"/>
<text x="424.50" y="530.10" font-size="8.6" font-weight="normal" font-style="normal" fill="#231f20" stroke="#231f20" stroke-width="0.08" textLength="4.40" lengthAdjust="spacingAndGlyphs">0</text>
<line x1="431.80" y1="508.98" x2="435.10" y2="508.98" stroke="#231f20" stroke-width="1.0"/>
<text x="420.50" y="511.68" font-size="8.6" font-weight="normal" font-style="normal" fill="#231f20" stroke="#231f20" stroke-width="0.08" textLength="8.40" lengthAdjust="spacingAndGlyphs">20</text>
<line x1="431.80" y1="490.56" x2="435.10" y2="490.56" stroke="#231f20" stroke-width="1.0"/>
<text x="420.50" y="493.26" font-size="8.6" font-weight="normal" font-style="normal" fill="#231f20" stroke="#231f20" stroke-width="0.08" textLength="8.40" lengthAdjust="spacingAndGlyphs">40</text>
<line x1="431.80" y1="472.14" x2="435.10" y2="472.14" stroke="#231f20" stroke-width="1.0"/>
<text x="420.50" y="474.84" font-size="8.6" font-weight="normal" font-style="normal" fill="#231f20" stroke="#231f20" stroke-width="0.08" textLength="8.40" lengthAdjust="spacingAndGlyphs">60</text>
<line x1="431.80" y1="453.72" x2="435.10" y2="453.72" stroke="#231f20" stroke-width="1.0"/>
<text x="420.50" y="456.42" font-size="8.6" font-weight="normal" font-style="normal" fill="#231f20" stroke="#231f20" stroke-width="0.08" textLength="8.40" lengthAdjust="spacingAndGlyphs">80</text>
<line x1="431.80" y1="435.30" x2="435.10" y2="435.30" stroke="#231f20" stroke-width="1.0"/>
<text x="416.20" y="438.00" font-size="8.6" font-weight="normal" font-style="normal" fill="#231f20" stroke="#231f20" stroke-width="0.08" textLength="12.70" lengthAdjust="spacingAndGlyphs">100</text>
<rect x="440.80" y="435.30" width="23.30" height="92.10" fill="#bcbcc0"/>
<rect x="475.60" y="435.30" width="23.30" height="92.10" fill="#bcbcc0"/>
<rect x="440.80" y="521.87" width="23.30" height="5.53" fill="#c4122f"/>
<rect x="475.60" y="513.22" width="23.30" height="14.18" fill="#c4122f"/>
<rect x="440.80" y="520.87" width="23.30" height="0.90" fill="#cfe0e0"/>
<rect x="475.60" y="512.22" width="23.30" height="0.90" fill="#cfe0e0"/>
<line x1="452.45" y1="527.40" x2="452.45" y2="530.70" stroke="#231f20" stroke-width="1.0"/>
<line x1="487.25" y1="527.40" x2="487.25" y2="530.70" stroke="#231f20" stroke-width="1.0"/>
<text x="436.70" y="539.90" font-size="8.6" font-weight="normal" font-style="normal" fill="#231f20" stroke="#231f20" stroke-width="0.08" textLength="31.40" lengthAdjust="spacingAndGlyphs">No CHIP</text>
<text x="478.00" y="539.90" font-size="8.6" font-weight="normal" font-style="normal" fill="#231f20" stroke="#231f20" stroke-width="0.08" textLength="18.30" lengthAdjust="spacingAndGlyphs">CHIP</text>
<text x="433.00" y="411.20" font-size="8.4" font-weight="normal" font-style="normal" fill="#231f20" stroke="#231f20" stroke-width="0.08" textLength="75.00" lengthAdjust="spacingAndGlyphs">Autoimmune disease</text>
<line x1="450.75" y1="427.45" x2="490.00" y2="427.45" stroke="#231f20" stroke-width="1.25"/>
<text x="468.88" y="425.80" font-size="8.6" font-weight="bold" font-style="normal" fill="#231f20" stroke="#231f20" stroke-width="0.08" textLength="3.00" lengthAdjust="spacingAndGlyphs">*</text>
<text transform="translate(409.80,503.00) rotate(-90)" x="0" y="0" font-size="9.3" font-weight="normal" fill="#231f20" stroke="#231f20" stroke-width="0.08" textLength="43.00" lengthAdjust="spacingAndGlyphs">% of patients</text>
<text x="140.00" y="568.80" font-size="8.6" font-weight="bold" font-style="normal" fill="#000" stroke="#000" stroke-width="0.08" textLength="33.75" lengthAdjust="spacingAndGlyphs">Adjusted</text>
<text x="43.00" y="577.20" font-size="8.6" font-weight="bold" font-style="normal" fill="#000" stroke="#000" stroke-width="0.08" textLength="34.50" lengthAdjust="spacingAndGlyphs">Variables</text>
<text x="151.25" y="577.20" font-size="8.6" font-weight="bold" font-style="normal" fill="#000" stroke="#000" stroke-width="0.08" textLength="11.25" lengthAdjust="spacingAndGlyphs">OR</text>
<text x="193.75" y="577.20" font-size="8.6" font-weight="bold" font-style="normal" fill="#000" stroke="#000" stroke-width="0.08" textLength="25.75" lengthAdjust="spacingAndGlyphs">95% CI</text>
<text x="242.50" y="577.20" font-size="8.6" font-weight="bold" font-style="italic" fill="#000" stroke="#000" stroke-width="0.08" textLength="27.00" lengthAdjust="spacingAndGlyphs">P-value</text>
<line x1="40.75" y1="580.25" x2="440.90" y2="580.25" stroke="#000" stroke-width="1.35"/>
<line x1="345.90" y1="582.00" x2="345.90" y2="679.30" stroke="#c8c8c8" stroke-width="0.9"/>
<text x="43.10" y="591.90" font-size="8.5" font-weight="normal" font-style="normal" fill="#231f20" stroke="#231f20" stroke-width="0.08" textLength="21.70" lengthAdjust="spacingAndGlyphs">Age $</text>
<text x="151.50" y="591.90" font-size="8.5" font-weight="normal" font-style="normal" fill="#231f20" stroke="#231f20" stroke-width="0.08" textLength="10.60" lengthAdjust="spacingAndGlyphs">2.1</text>
<text x="192.90" y="591.90" font-size="8.5" font-weight="normal" font-style="normal" fill="#231f20" stroke="#231f20" stroke-width="0.08" textLength="26.90" lengthAdjust="spacingAndGlyphs">1.1–4.0</text>
<text x="242.70" y="591.90" font-size="8.5" font-weight="normal" font-style="normal" fill="#231f20" stroke="#231f20" stroke-width="0.08" textLength="19.90" lengthAdjust="spacingAndGlyphs">0.025</text>
<text x="265.40" y="592.30" font-size="8.6" font-weight="bold" font-style="normal" fill="#231f20" stroke="#231f20" stroke-width="0.08" textLength="3.20" lengthAdjust="spacingAndGlyphs">*</text>
<line x1="347.89" y1="588.90" x2="374.80" y2="588.90" stroke="#000" stroke-width="1.0"/>
<line x1="347.89" y1="586.70" x2="347.89" y2="591.10" stroke="#000" stroke-width="1.0"/>
<line x1="374.80" y1="586.70" x2="374.80" y2="591.10" stroke="#000" stroke-width="1.0"/>
<rect x="359.47" y="587.00" width="3.8" height="3.8" fill="#000"/>
<text x="43.10" y="608.63" font-size="8.5" font-weight="normal" font-style="normal" fill="#231f20" stroke="#231f20" stroke-width="0.08" textLength="18.80" lengthAdjust="spacingAndGlyphs">Sex ¢</text>
<text x="151.70" y="608.63" font-size="8.5" font-weight="normal" font-style="normal" fill="#231f20" stroke="#231f20" stroke-width="0.08" textLength="10.30" lengthAdjust="spacingAndGlyphs">1.6</text>
<text x="191.00" y="608.63" font-size="8.5" font-weight="normal" font-style="normal" fill="#231f20" stroke="#231f20" stroke-width="0.08" textLength="30.70" lengthAdjust="spacingAndGlyphs">0.62–4.4</text>
<text x="248.00" y="608.63" font-size="8.5" font-weight="normal" font-style="normal" fill="#231f20" stroke="#231f20" stroke-width="0.08" textLength="15.10" lengthAdjust="spacingAndGlyphs">0.32</text>
<line x1="335.93" y1="605.63" x2="376.79" y2="605.63" stroke="#000" stroke-width="1.0"/>
<line x1="335.93" y1="603.43" x2="335.93" y2="607.83" stroke="#000" stroke-width="1.0"/>
<line x1="376.79" y1="603.43" x2="376.79" y2="607.83" stroke="#000" stroke-width="1.0"/>
<rect x="353.80" y="603.73" width="3.8" height="3.8" fill="#000"/>
<text x="43.10" y="625.36" font-size="8.5" font-weight="normal" font-style="normal" fill="#231f20" stroke="#231f20" stroke-width="0.08" textLength="70.70" lengthAdjust="spacingAndGlyphs">Hemoglobin level †</text>
<text x="149.20" y="625.36" font-size="8.5" font-weight="normal" font-style="normal" fill="#231f20" stroke="#231f20" stroke-width="0.08" textLength="15.20" lengthAdjust="spacingAndGlyphs">0.67</text>
<text x="189.00" y="625.36" font-size="8.5" font-weight="normal" font-style="normal" fill="#231f20" stroke="#231f20" stroke-width="0.08" textLength="35.20" lengthAdjust="spacingAndGlyphs">0.49–0.89</text>
<text x="238.90" y="625.36" font-size="8.5" font-weight="normal" font-style="normal" fill="#231f20" stroke="#231f20" stroke-width="0.08" textLength="23.90" lengthAdjust="spacingAndGlyphs">0.0078</text>
<text x="266.20" y="625.76" font-size="8.6" font-weight="bold" font-style="normal" fill="#231f20" stroke="#231f20" stroke-width="0.08" textLength="6.30" lengthAdjust="spacingAndGlyphs">**</text>
<line x1="331.03" y1="622.36" x2="343.47" y2="622.36" stroke="#000" stroke-width="1.0"/>
<line x1="331.03" y1="620.16" x2="331.03" y2="624.56" stroke="#000" stroke-width="1.0"/>
<line x1="343.47" y1="620.16" x2="343.47" y2="624.56" stroke="#000" stroke-width="1.0"/>
<rect x="335.65" y="620.46" width="3.8" height="3.8" fill="#000"/>
<text x="43.10" y="642.09" font-size="8.5" font-weight="normal" font-style="normal" fill="#231f20" stroke="#231f20" stroke-width="0.08" textLength="81.90" lengthAdjust="spacingAndGlyphs">Cardiovascular disease</text>
<text x="151.50" y="642.09" font-size="8.5" font-weight="normal" font-style="normal" fill="#231f20" stroke="#231f20" stroke-width="0.08" textLength="10.80" lengthAdjust="spacingAndGlyphs">2.9</text>
<text x="191.00" y="642.09" font-size="8.5" font-weight="normal" font-style="normal" fill="#231f20" stroke="#231f20" stroke-width="0.08" textLength="30.70" lengthAdjust="spacingAndGlyphs">0.96–9.6</text>
<text x="245.90" y="642.09" font-size="8.5" font-weight="normal" font-style="normal" fill="#231f20" stroke="#231f20" stroke-width="0.08" textLength="19.40" lengthAdjust="spacingAndGlyphs">0.069</text>
<line x1="345.05" y1="639.09" x2="393.05" y2="639.09" stroke="#000" stroke-width="1.0"/>
<line x1="345.05" y1="636.89" x2="345.05" y2="641.29" stroke="#000" stroke-width="1.0"/>
<line x1="393.05" y1="636.89" x2="393.05" y2="641.29" stroke="#000" stroke-width="1.0"/>
<rect x="366.20" y="637.19" width="3.8" height="3.8" fill="#000"/>
<text x="43.10" y="658.82" font-size="8.5" font-weight="normal" font-style="normal" fill="#231f20" stroke="#231f20" stroke-width="0.08" textLength="75.90" lengthAdjust="spacingAndGlyphs">Autoimmune disease</text>
<text x="151.50" y="658.82" font-size="8.5" font-weight="normal" font-style="normal" fill="#231f20" stroke="#231f20" stroke-width="0.08" textLength="10.80" lengthAdjust="spacingAndGlyphs">6.6</text>
<text x="194.80" y="658.82" font-size="8.5" font-weight="normal" font-style="normal" fill="#231f20" stroke="#231f20" stroke-width="0.08" textLength="24.00" lengthAdjust="spacingAndGlyphs">1.7–30</text>
<text x="238.90" y="658.82" font-size="8.5" font-weight="normal" font-style="normal" fill="#231f20" stroke="#231f20" stroke-width="0.08" textLength="23.90" lengthAdjust="spacingAndGlyphs">0.0081</text>
<text x="266.20" y="659.22" font-size="8.6" font-weight="bold" font-style="normal" fill="#231f20" stroke="#231f20" stroke-width="0.08" textLength="6.30" lengthAdjust="spacingAndGlyphs">**</text>
<line x1="356.96" y1="655.82" x2="416.80" y2="655.82" stroke="#000" stroke-width="1.0"/>
<line x1="356.96" y1="653.62" x2="356.96" y2="658.02" stroke="#000" stroke-width="1.0"/>
<line x1="416.80" y1="653.62" x2="416.80" y2="658.02" stroke="#000" stroke-width="1.0"/>
<rect x="383.34" y="653.92" width="3.8" height="3.8" fill="#000"/>
<text x="43.10" y="675.55" font-size="8.5" font-weight="normal" font-style="normal" fill="#231f20" stroke="#231f20" stroke-width="0.08" textLength="65.00" lengthAdjust="spacingAndGlyphs">Malignant disease</text>
<text x="151.70" y="675.55" font-size="8.5" font-weight="normal" font-style="normal" fill="#231f20" stroke="#231f20" stroke-width="0.08" textLength="10.30" lengthAdjust="spacingAndGlyphs">1.6</text>
<text x="191.00" y="675.55" font-size="8.5" font-weight="normal" font-style="normal" fill="#231f20" stroke="#231f20" stroke-width="0.08" textLength="30.70" lengthAdjust="spacingAndGlyphs">0.53–5.2</text>
<text x="248.00" y="675.55" font-size="8.5" font-weight="normal" font-style="normal" fill="#231f20" stroke="#231f20" stroke-width="0.08" textLength="15.10" lengthAdjust="spacingAndGlyphs">0.39</text>
<line x1="332.67" y1="672.55" x2="380.27" y2="672.55" stroke="#000" stroke-width="1.0"/>
<line x1="332.67" y1="670.35" x2="332.67" y2="674.75" stroke="#000" stroke-width="1.0"/>
<line x1="380.27" y1="670.35" x2="380.27" y2="674.75" stroke="#000" stroke-width="1.0"/>
<rect x="353.80" y="670.65" width="3.8" height="3.8" fill="#000"/>
<line x1="296.80" y1="679.35" x2="441.60" y2="679.35" stroke="#000" stroke-width="1.4"/>
<line x1="297.90" y1="679.30" x2="297.90" y2="682.50" stroke="#000" stroke-width="1.1"/>
<line x1="345.90" y1="679.30" x2="345.90" y2="682.50" stroke="#000" stroke-width="1.1"/>
<line x1="393.90" y1="679.30" x2="393.90" y2="682.50" stroke="#000" stroke-width="1.1"/>
<line x1="441.90" y1="679.30" x2="441.90" y2="682.50" stroke="#000" stroke-width="1.1"/>
<text x="289.90" y="692.00" font-size="8.6" font-weight="normal" font-style="normal" fill="#231f20" stroke="#231f20" stroke-width="0.08" textLength="15.30" lengthAdjust="spacingAndGlyphs">0.10</text>
<text x="341.00" y="692.00" font-size="8.6" font-weight="normal" font-style="normal" fill="#231f20" stroke="#231f20" stroke-width="0.08" textLength="11.50" lengthAdjust="spacingAndGlyphs">1.0</text>
<text x="385.00" y="692.00" font-size="8.6" font-weight="normal" font-style="normal" fill="#231f20" stroke="#231f20" stroke-width="0.08" textLength="17.50" lengthAdjust="spacingAndGlyphs">10.0</text>
<text x="432.50" y="692.00" font-size="8.6" font-weight="normal" font-style="normal" fill="#231f20" stroke="#231f20" stroke-width="0.08" textLength="20.00" lengthAdjust="spacingAndGlyphs">100.0</text>
<line x1="301.50" y1="700.20" x2="340.90" y2="700.20" stroke="#000" stroke-width="1.1"/>
<path d="M297.8,700.2 L303.2,697.9 L303.2,702.5 Z" fill="#000"/>
<line x1="350.00" y1="700.10" x2="389.00" y2="700.10" stroke="#000" stroke-width="1.1"/>
<path d="M393.6,700.1 L388.2,697.8 L388.2,702.4 Z" fill="#000"/>
<text x="273.70" y="710.60" font-size="8.6" font-weight="normal" font-style="normal" fill="#231f20" stroke="#231f20" stroke-width="0.08" textLength="71.50" lengthAdjust="spacingAndGlyphs">Lower odds of CHIP</text>
<text x="351.20" y="710.40" font-size="8.6" font-weight="normal" font-style="normal" fill="#231f20" stroke="#231f20" stroke-width="0.08" textLength="73.80" lengthAdjust="spacingAndGlyphs">Higher odds of CHIP</text>
<rect x="0.6" y="0.55" width="518.8" height="717.9" fill="none" stroke="#000" stroke-width="1.2"/>
</svg>
</body></html>
